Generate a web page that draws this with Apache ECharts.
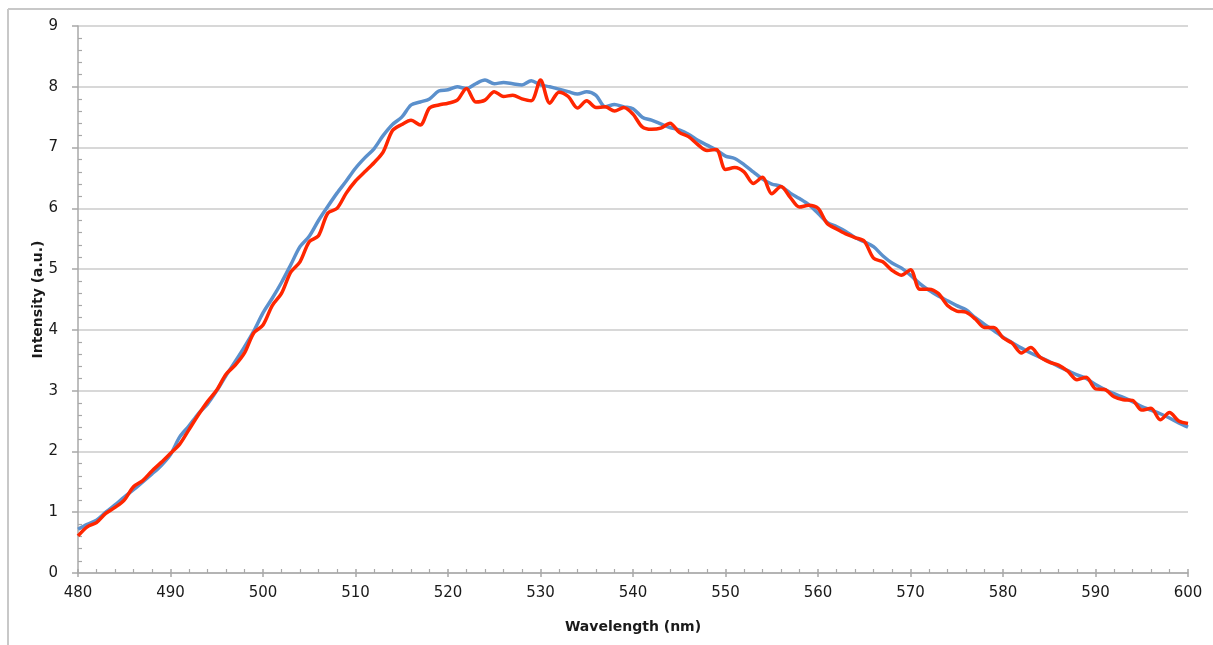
<!DOCTYPE html>
<html>
<head>
<meta charset="utf-8">
<script src="https://cdn.jsdelivr.net/npm/echarts@6/dist/echarts.min.js"></script>
<style>
  html, body { margin: 0; padding: 0; background: #fff; }
  #chart { width: 1213px; height: 645px; }
</style>
</head>
<body>
<div id="chart"></div>
<script>
// wavelength grid (nm)
const wavelengths = [
  480, 481, 482, 483, 484, 485, 486, 487, 488, 489,
  490, 491, 492, 493, 494, 495, 496, 497, 498, 499,
  500, 501, 502, 503, 504, 505, 506, 507, 508, 509,
  510, 511, 512, 513, 514, 515, 516, 517, 518, 519,
  520, 521, 522, 523, 524, 525, 526, 527, 528, 529,
  530, 531, 532, 533, 534, 535, 536, 537, 538, 539,
  540, 541, 542, 543, 544, 545, 546, 547, 548, 549,
  550, 551, 552, 553, 554, 555, 556, 557, 558, 559,
  560, 561, 562, 563, 564, 565, 566, 567, 568, 569,
  570, 571, 572, 573, 574, 575, 576, 577, 578, 579,
  580, 581, 582, 583, 584, 585, 586, 587, 588, 589,
  590, 591, 592, 593, 594, 595, 596, 597, 598, 599,
  600
];

// blue trace
const blueIntensity = [
  0.72, 0.80, 0.87, 1.00, 1.12, 1.25, 1.37, 1.50, 1.63, 1.77,
  1.95, 2.24, 2.42, 2.62, 2.78, 3.00, 3.25, 3.48, 3.72, 3.98,
  4.28, 4.52, 4.78, 5.07, 5.37, 5.54, 5.80, 6.03, 6.25, 6.45,
  6.66, 6.83, 6.98, 7.20, 7.38, 7.50, 7.70, 7.75, 7.80, 7.93,
  7.95, 8.00, 7.97, 8.05, 8.11, 8.05, 8.07, 8.05, 8.03, 8.10,
  8.03, 8.00, 7.96, 7.92, 7.88, 7.92, 7.86, 7.67, 7.71, 7.67,
  7.64, 7.50, 7.45, 7.39, 7.33, 7.29, 7.22, 7.12, 7.04, 6.96,
  6.86, 6.82, 6.72, 6.60, 6.48, 6.40, 6.36, 6.25, 6.16, 6.06,
  5.92, 5.77, 5.70, 5.62, 5.52, 5.45, 5.37, 5.22, 5.10, 5.02,
  4.90, 4.76, 4.65, 4.56, 4.48, 4.40, 4.33, 4.20, 4.09, 3.99,
  3.88, 3.79, 3.70, 3.62, 3.55, 3.48, 3.40, 3.33, 3.26, 3.20,
  3.10, 3.02, 2.95, 2.89, 2.82, 2.74, 2.68, 2.62, 2.55, 2.47,
  2.40
];

// red trace
const redIntensity = [
  0.61, 0.76, 0.83, 0.98, 1.08, 1.20, 1.42, 1.52, 1.68, 1.82,
  1.97, 2.12, 2.36, 2.60, 2.82, 3.01, 3.27, 3.42, 3.62, 3.95,
  4.08, 4.40, 4.60, 4.95, 5.12, 5.45, 5.55, 5.92, 6.00, 6.25,
  6.45, 6.60, 6.75, 6.93, 7.28, 7.38, 7.45, 7.37, 7.65, 7.70,
  7.73, 7.78, 7.97, 7.75, 7.78, 7.92, 7.84, 7.86, 7.80, 7.77,
  8.11, 7.73, 7.91, 7.84, 7.65, 7.77, 7.66, 7.67, 7.60, 7.66,
  7.55, 7.34, 7.30, 7.32, 7.40, 7.25, 7.18, 7.05, 6.95, 6.97,
  6.64, 6.67, 6.60, 6.41, 6.51, 6.24, 6.36, 6.18, 6.02, 6.05,
  6.00, 5.75, 5.66, 5.58, 5.52, 5.46, 5.18, 5.12, 4.98, 4.90,
  4.99, 4.67, 4.67, 4.60, 4.40, 4.31, 4.29, 4.18, 4.04, 4.04,
  3.87, 3.78, 3.62, 3.71, 3.55, 3.47, 3.42, 3.32, 3.18, 3.22,
  3.03, 3.02, 2.90, 2.85, 2.84, 2.68, 2.71, 2.52, 2.64, 2.50,
  2.46
];

const axisGrey = "#a8a8a8";
const labelFont = { fontFamily: "DejaVu Sans", fontSize: 15, color: "#1a1a1a" };
const nameFont = { fontFamily: "DejaVu Sans", fontSize: 14, fontWeight: "bold", color: "#1a1a1a" };

const chart = echarts.init(document.getElementById("chart"));

const pairs = (vals) => wavelengths.map((w, i) => [w, vals[i]]);

chart.setOption({
  animation: false,
  backgroundColor: "#fff",
  graphic: [
    { type: "line", shape: { x1: 8, y1: 9, x2: 1213, y2: 9 }, style: { stroke: "#c8c8c8", lineWidth: 2 } },
    { type: "line", shape: { x1: 8, y1: 9, x2: 8, y2: 645 }, style: { stroke: "#c8c8c8", lineWidth: 2 } },
  ],
  grid: { left: 78, right: 25, top: 26, bottom: 72, containLabel: false, outerBoundsMode: "none" },
  xAxis: [
    {
      type: "value", position: "bottom", min: 480, max: 600, interval: 10,
      name: "Wavelength (nm)", nameLocation: "middle", nameGap: 47, nameMoveOverlap: false, nameTextStyle: nameFont,
      axisLine: { show: true, lineStyle: { color: axisGrey, width: 1.5 } },
      axisTick: { show: true, inside: false, length: 4, lineStyle: { color: axisGrey, width: 1.5 } },
      axisLabel: Object.assign({ margin: 13 }, labelFont),
      splitLine: { show: false },
    },
    {
      // inner ticks (major + minor) drawn above the axis line
      type: "value", position: "bottom", min: 480, max: 600, interval: 10,
      axisLine: { show: false },
      axisTick: { show: true, inside: true, length: 4, lineStyle: { color: axisGrey, width: 1.5 } },
      minorTick: { show: true, splitNumber: 5, length: 4, lineStyle: { color: axisGrey, width: 1.2 } },
      axisLabel: { show: false },
      splitLine: { show: false },
    },
  ],
  yAxis: [
    {
      type: "value", position: "left", min: 0, max: 9, interval: 1,
      name: "Intensity (a.u.)", nameLocation: "middle", nameGap: 33, nameMoveOverlap: false, nameTextStyle: nameFont,
      axisLine: { show: true, lineStyle: { color: axisGrey, width: 1.5 } },
      axisTick: { show: true, inside: false, length: 6, lineStyle: { color: axisGrey, width: 1.5 } },
      axisLabel: Object.assign({ margin: 20 }, labelFont),
      splitLine: { show: true, lineStyle: { color: "#cbcbcb", width: 1.5 } },
    },
    {
      // minor ticks pointing into the plot
      type: "value", position: "left", min: 0, max: 9, interval: 1,
      axisLine: { show: false },
      axisTick: { show: false, inside: true },
      minorTick: { show: true, splitNumber: 5, length: 4, lineStyle: { color: axisGrey, width: 1.2 } },
      axisLabel: { show: false },
      splitLine: { show: false },
    },
  ],
  series: [
    {
      name: "blue", type: "line", xAxisIndex: 0, yAxisIndex: 0,
      data: pairs(blueIntensity), smooth: 0.3, showSymbol: false,
      lineStyle: { color: "#5b90cc", width: 3.5 },
    },
    {
      name: "red", type: "line", xAxisIndex: 0, yAxisIndex: 0,
      data: pairs(redIntensity), smooth: 0.3, showSymbol: false,
      lineStyle: { color: "#ff2600", width: 3.5 },
    },
  ],
});
</script>
</body>
</html>
